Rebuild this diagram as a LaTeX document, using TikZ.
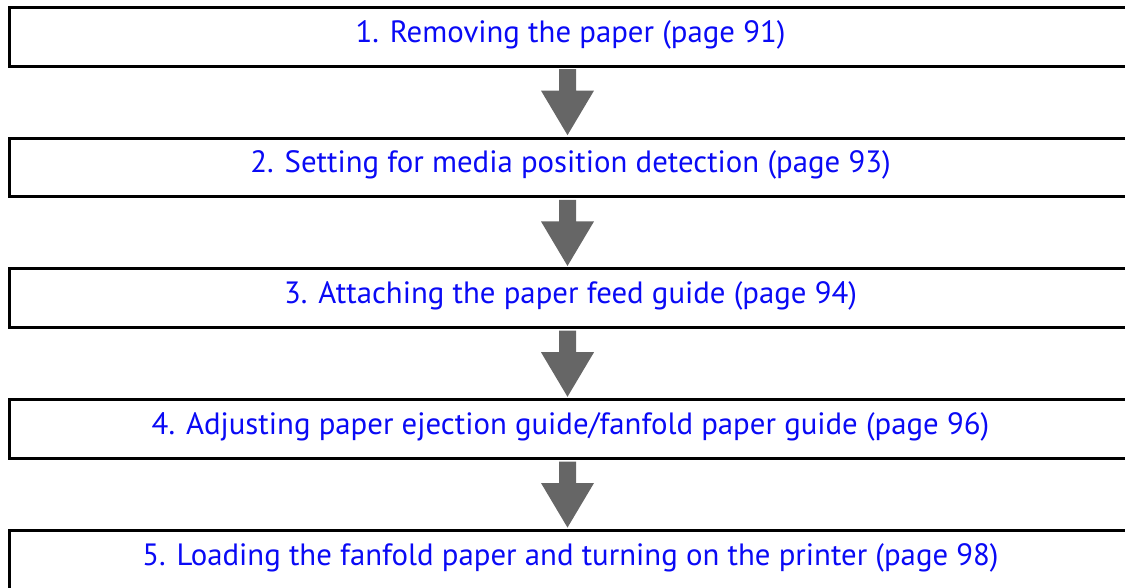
\documentclass[tikz,border=0pt]{standalone}
\usepackage{fontspec}
\setmainfont{PT Sans}
\usepackage{xcolor}
\usepackage{tikz}
\usetikzlibrary{
	calc,
	positioning
}
\definecolor{stepblue}{RGB}{10,10,245}
\definecolor{arrowgray}{RGB}{102,102,102}

\begin{document}
\begin{tikzpicture}[x=1pt, y=-1pt,
	stepbox/.style={draw, line width=3pt, rectangle, inner sep=0pt,
		minimum width=1122pt, minimum height=58.75pt,
		text height=18pt, text depth=7.2pt,
		font=\fontsize{30.8}{36}\selectfont, text=stepblue},
	downarrow/.style={fill=arrowgray}
	]
	\useasboundingbox (0,0) rectangle (1125,587);
	\node[stepbox] (s1) at (570.5,36.75) {1. Removing the paper (page 91)};
	\node[stepbox] (s2) at (570.5,167.55) {2. Setting for media position detection (page 93)};
	\node[stepbox] (s3) at (570.5,298.35) {3. Attaching the paper feed guide (page 94)};
	\node[stepbox] (s4) at (570.5,429.15) {4. Adjusting paper ejection guide/fanfold paper guide (page 96)};
	\node[stepbox] (s5) at (570.5,559.95) {5. Loading the fanfold paper and turning on the printer (page 98)};
	% block arrows between the steps
	\foreach \a/\b in {s1/s2, s2/s3, s3/s4, s4/s5}{
		\coordinate (top) at ($(\a.south)+(-3,1.5)$);
		\coordinate (tip) at ($(\b.north)+(-3,-1.5)$);
		\fill[downarrow] ($(top)+(-8.5,0)$) -- ($(top)+(8.5,0)$)
			-- ($(top)+(8.5,21.5)$) -- ($(top)+(26.5,21.5)$)
			-- (tip)
			-- ($(top)+(-26.5,21.5)$) -- ($(top)+(-8.5,21.5)$) -- cycle;
	}
\end{tikzpicture}
\end{document}
